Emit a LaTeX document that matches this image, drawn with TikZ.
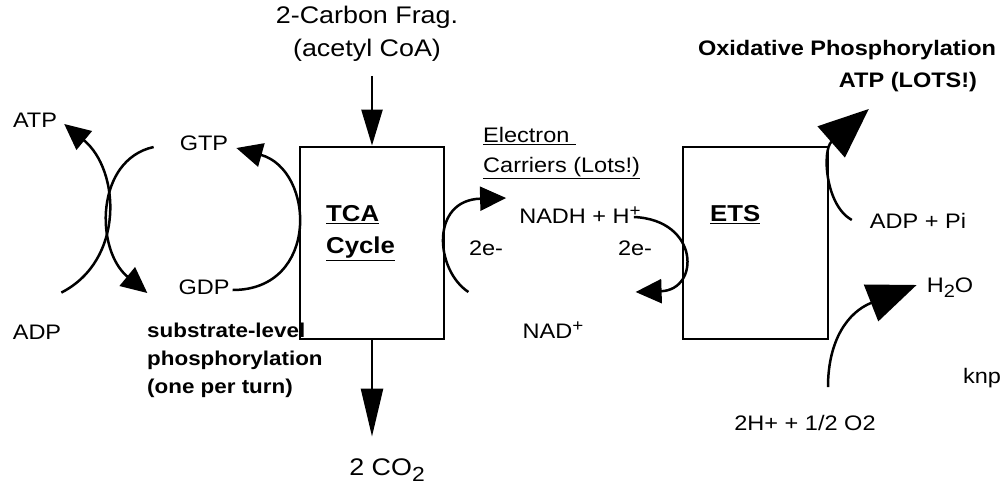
\documentclass[tikz,border=0pt]{standalone}
\usepackage{fontspec}
\setmainfont{Liberation Sans}[FakeStretch=1.12]
\usepackage{graphicx}
\usepackage{tikz}
\usetikzlibrary{arrows.meta,positioning}
\newcommand{\chemsub}[1]{\raisebox{-0.45ex}{\scalebox{0.85}{#1}}}
\newcommand{\chemsup}[1]{\raisebox{0.6ex}{\scalebox{0.8}{#1}}}

\begin{document}
\begin{tikzpicture}[
    x=1pt, y=-1pt,
    >=Stealth,
    block/.style={rectangle, draw, line width=2.8pt, minimum width=#1, minimum height=192pt, inner sep=0pt},
    chem/.style={font=\fontsize{21}{30}\selectfont, inner sep=0pt, align=center},
    bigchem/.style={font=\fontsize{24}{33}\selectfont, inner sep=0pt, align=center},
    boxtitle/.style={font=\fontsize{23}{32}\selectfont\bfseries, inner sep=0pt, align=left},
    boldhead/.style={font=\fontsize{21}{32}\selectfont\bfseries, inner sep=0pt, align=center},
    boldnote/.style={font=\fontsize{20}{28}\selectfont\bfseries, inner sep=0pt, align=left},
    pipe/.style={-{Triangle[length=26pt, width=24pt]}, line width=2.5pt},
    bigpipe/.style={-{Triangle[#1]}, line width=2.5pt},
]

\fill[white] (0,0) rectangle (1002,495);
\useasboundingbox (0,0) rectangle (1002,495);

% --- Boxes ---
\node[block=144pt] (tca) at (372,243) {};
\node[block=145pt] (ets) at (755.5,243) {};
\node[boxtitle, anchor=west] (tcalabel) at (326,233) {\underline{TCA}\\\underline{Cycle}};
\node[boxtitle, anchor=west] (etslabel) at (710,215) {\underline{ETS}};

% --- TCA input and output ---
\node[bigchem] (acetyl) at (367,34) {2-Carbon Frag.\\(acetyl CoA)};
\node[bigchem] (co2) at (387,470) {2 CO\chemsub{2}};
\draw[bigpipe={length=36pt, width=21pt}, shorten <=14pt] (acetyl.south -| tca.north) -- (tca.north);
\draw[bigpipe={length=48pt, width=22pt}, shorten >=22pt] (tca.south) -- (co2.north -| tca.south);

% --- Substrate-level phosphorylation ---
\node[chem] (atp) at (35,120) {ATP};
\node[chem] (adp) at (37,332) {ADP};
\node[chem] (gtp) at (204,143) {GTP};
\node[chem] (gdp) at (204,287) {GDP};
\node[boldnote, anchor=west] (sublevel) at (147,360) {substrate-level\\phosphorylation\\(one per turn)};

\draw[pipe] ([yshift=32pt]adp.north east) .. controls (125,260) and (120,170) .. ([shift={(7pt,-4pt)}]atp.east);
\draw[pipe] ([shift={(-26pt,-4pt)}]gtp.west) .. controls (95,160) and (95,250) .. ([shift={(-31pt,-6pt)}]gdp.west);
\draw[pipe] ([shift={(3pt,-3pt)}]gdp.east) .. controls (320,290) and (315,170) .. ([shift={(8pt,-5pt)}]gtp.east);

% --- Electron carriers ---
\node[chem, align=left, anchor=west] (carriers) at (483,153) {\underline{Electron\ }\\\underline{Carriers (Lots!)}};
\node[chem] (nadh) at (580,215) {NADH + H\chemsup{+}};
\node[chem] (nad) at (553,330) {NAD\chemsup{+}};
\node[chem] (eleft) at (486,248) {2e-};
\node[chem] (eright) at (635,248) {2e-};

\draw[pipe] ([shift={(23pt,-49pt)}]tca.east) .. controls (435,270) and (430,200) .. ([shift={(-13pt,17pt)}]nadh.west);
\draw[pipe] ([shift={(-7pt,-2pt)}]nadh.east) .. controls (700,220) and (700,290) .. ([shift={(-46pt,-49pt)}]ets.west);

% --- ETS ---
\node[boldhead] (oxphos) at (847,50) {Oxidative Phosphorylation};
\node[boldhead] (atplots) at (908,82) {ATP (LOTS!)};
\node[chem] (adppi) at (918,221) {ADP + Pi};
\node[chem] (water) at (950,288) {H\chemsub{2}O};
\node[chem] (protons) at (805,423) {2H+ + 1/2 O2};
\node[chem] (knp) at (982,378) {knp};

\draw[bigpipe={length=50pt, width=41pt}] ([shift={(-18pt,1pt)}]adppi.west) .. controls (825,205) and (822,150) .. ([shift={(30pt,-17pt)}]atplots.south west);
\draw[bigpipe={length=49pt, width=39pt}] ([shift={(23pt,28pt)}]protons.north) .. controls (828,340) and (848,312) .. ([shift={(-10pt,3pt)}]water.west);

\end{tikzpicture}
\end{document}
